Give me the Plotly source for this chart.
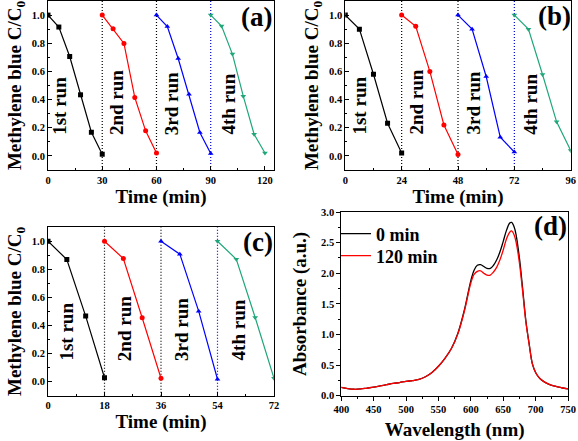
import plotly.graph_objects as go

# ---------------- data ----------------
# (a) 30-min runs
a_run1_t = [0, 6, 12, 18, 24, 30]
a_run1_c = [1.0, 0.915, 0.706, 0.434, 0.168, 0.012]
a_run2_t = [30, 36, 42, 48, 54, 60]
a_run2_c = [1.0, 0.903, 0.799, 0.415, 0.178, 0.021]
a_run3_t = [60, 66, 72, 78, 84, 90]
a_run3_c = [1.0, 0.919, 0.692, 0.438, 0.166, 0.017]
a_run4_t = [90, 96, 102, 108, 114, 120]
a_run4_c = [1.0, 0.922, 0.723, 0.424, 0.154, 0.021]
a_bounds = [30, 60, 90]

# (b) 24-min runs
b_run1_t = [0, 6, 12, 18, 24]
b_run1_c = [1.0, 0.90, 0.58, 0.232, 0.02]
b_run2_t = [24, 30, 36, 42, 48]
b_run2_c = [1.0, 0.92, 0.60, 0.22, 0.01]
b_run3_t = [48, 54, 60, 66, 72]
b_run3_c = [1.0, 0.90, 0.564, 0.133, 0.028]
b_run4_t = [72, 78, 84, 90, 96]
b_run4_c = [1.0, 0.90, 0.578, 0.242, 0.038]
b_bounds = [24, 48, 72]

# (c) 18-min runs
c_run1_t = [0, 6, 12, 18]
c_run1_c = [1.0, 0.87, 0.467, 0.028]
c_run2_t = [18, 24, 30, 36]
c_run2_c = [1.0, 0.877, 0.455, 0.024]
c_run3_t = [36, 42, 48, 54]
c_run3_c = [1.0, 0.908, 0.502, 0.017]
c_run4_t = [54, 60, 66, 72]
c_run4_c = [1.0, 0.872, 0.457, 0.024]
c_bounds = [18, 36, 54]

run_labels = ["1st run", "2nd run", "3rd run", "4th run"]
a_label_x = [6.6, 38, 68.5, 99.6]
b_label_x = [6.1, 30.2, 54.4, 78.8]
c_label_x = [6.0, 24.2, 42.3, 60.6]

# (d) UV-vis spectra
wavelength = [400, 410, 420, 430, 440, 450, 460, 470, 480, 490, 500, 510, 520, 530,
              540, 550, 560, 570, 580, 590, 600, 605, 610, 615, 620, 625, 630, 635,
              640, 645, 650, 655, 660, 663, 667, 670, 675, 680, 685, 690, 695, 700,
              705, 710, 720, 730, 740, 750]
abs_0min = [0.135, 0.115, 0.105, 0.11, 0.125, 0.14, 0.16, 0.18, 0.20, 0.215, 0.235, 0.245,
            0.265, 0.31, 0.38, 0.48, 0.61, 0.77, 1.02, 1.40, 1.88, 2.05, 2.13, 2.14,
            2.11, 2.08, 2.08, 2.13, 2.22, 2.35, 2.52, 2.70, 2.82, 2.83, 2.75, 2.62,
            2.25, 1.75, 1.22, 0.85, 0.52, 0.38, 0.30, 0.25, 0.19, 0.155, 0.13, 0.11]
abs_120min = [0.135, 0.115, 0.105, 0.11, 0.125, 0.14, 0.16, 0.18, 0.20, 0.215, 0.235, 0.245,
              0.265, 0.31, 0.38, 0.48, 0.61, 0.77, 1.01, 1.38, 1.84, 1.98, 2.03, 2.04,
              2.00, 1.97, 1.97, 2.02, 2.10, 2.22, 2.38, 2.56, 2.67, 2.69, 2.62, 2.50,
              2.17, 1.70, 1.20, 0.84, 0.52, 0.38, 0.30, 0.25, 0.19, 0.155, 0.13, 0.11]

# ---------------- style ----------------
W, H = 578, 441
FONT = "Liberation Serif, Times New Roman, serif"
colors = ["#000000", "#FF0000", "#0000FF", "#1FA77A"]
symbols = ["square", "circle", "triangle-up", "triangle-down"]


def px_x(p):
    return p / W


def px_y(p):
    return 1 - p / H


fig = go.Figure()

panels = [
    ("x", "y", [(a_run1_t, a_run1_c), (a_run2_t, a_run2_c), (a_run3_t, a_run3_c), (a_run4_t, a_run4_c)],
     a_bounds, a_label_x),
    ("x2", "y2", [(b_run1_t, b_run1_c), (b_run2_t, b_run2_c), (b_run3_t, b_run3_c), (b_run4_t, b_run4_c)],
     b_bounds, b_label_x),
    ("x3", "y3", [(c_run1_t, c_run1_c), (c_run2_t, c_run2_c), (c_run3_t, c_run3_c), (c_run4_t, c_run4_c)],
     c_bounds, c_label_x),
]

for xa, ya, runs, bounds, lab_x in panels:
    for j, b in enumerate(bounds):
        fig.add_shape(type="line", xref=xa, yref=ya + " domain", x0=b, x1=b, y0=0, y1=1,
                      line=dict(color="#0000CC" if j == len(bounds) - 1 else "#000000",
                                width=1.2, dash="1px,2px"), layer="below")
    for i, (t, c) in enumerate(runs):
        fig.add_trace(go.Scatter(
            x=t, y=c, xaxis=xa, yaxis=ya, mode="lines+markers",
            line=dict(color=colors[i], width=1.2),
            marker=dict(symbol=symbols[i], size=5, color=colors[i]),
            showlegend=False))
    for i, lx in enumerate(lab_x):
        fig.add_annotation(x=lx, y=0.135, xref=xa, yref=ya, text=run_labels[i],
                           textangle=-90, showarrow=False, xanchor="center", yanchor="bottom",
                           font=dict(family=FONT, size=19, color="black", weight="bold"))

fig.add_trace(go.Scatter(x=wavelength, y=abs_0min, xaxis="x4", yaxis="y4", mode="lines",
                         line=dict(color="black", width=1.3, shape="spline"), name="0 min",
                         legend="legend"))
fig.add_trace(go.Scatter(x=wavelength, y=abs_120min, xaxis="x4", yaxis="y4", mode="lines",
                         line=dict(color="#FF0000", width=1.3, shape="spline"), name="120 min",
                         legend="legend2"))

tickfont = dict(family=FONT, size=10.5, color="black", weight="bold")
titlefont_x = dict(family=FONT, size=19, color="black", weight="bold")
titlefont_y = dict(family=FONT, size=19, color="black", weight="bold")


def xaxis(domain, rng, dtick, minor, anchor, title, ticks="inside", standoff=2):
    return dict(domain=domain, range=rng, dtick=dtick, tick0=0 if rng[0] == 0 else rng[0],
                anchor=anchor, showgrid=False, zeroline=False, showline=True,
                linecolor="black", linewidth=1, mirror=True, ticks=ticks, ticklen=4,
                tickcolor="black", tickwidth=1, tickfont=tickfont, automargin=False,
                minor=dict(dtick=minor, ticks=ticks, ticklen=2, tickcolor="black", showgrid=False),
                title=dict(text=title, font=titlefont_x, standoff=standoff))


def yaxis(domain, rng, dtick, minor, anchor, title, ticks="inside", standoff=5, fmt=".1f"):
    return dict(domain=domain, range=rng, dtick=dtick, tick0=0, anchor=anchor,
                showgrid=False, zeroline=False, showline=True, linecolor="black",
                linewidth=1, mirror=True, ticks=ticks, ticklen=4, tickcolor="black",
                tickwidth=1, tickfont=tickfont, tickformat=fmt, automargin=False,
                minor=dict(dtick=minor, ticks=ticks, ticklen=2, tickcolor="black", showgrid=False),
                title=dict(text=title, font=titlefont_y, standoff=standoff))


ytitle = "Methylene blue C/C<sub>0</sub>"
dom_ax = [px_x(48), px_x(274)]
dom_bx = [px_x(345.3), px_x(570.7)]
dom_top_y = [px_y(170), px_y(1)]
dom_c_y = [px_y(395.7), px_y(227.2)]
dom_dx = [px_x(341.3), px_x(568)]
dom_d_y = [px_y(395.7), px_y(212)]

legend_style = dict(xanchor="left", yanchor="middle", bgcolor="rgba(0,0,0,0)",
                    borderwidth=0, itemwidth=30,
                    font=dict(family=FONT, size=18, color="black", weight="bold"))

fig.update_layout(
    width=W, height=H, margin=dict(l=0, r=0, t=0, b=0, autoexpand=False),
    paper_bgcolor="white", plot_bgcolor="white",
    font=dict(family=FONT, color="black"),
    xaxis=xaxis(dom_ax, [0, 125], 30, 15, "y", "Time (min)"),
    yaxis=yaxis(dom_top_y, [-0.1, 1.1], 0.2, 0.1, "x", ytitle),
    xaxis2=xaxis(dom_bx, [0, 96], 24, 12, "y2", "Time (min)"),
    yaxis2=yaxis(dom_top_y, [-0.1, 1.1], 0.2, 0.1, "x2", ytitle),
    xaxis3=xaxis(dom_ax, [0, 72], 18, 9, "y3", "Time (min)"),
    yaxis3=yaxis(dom_c_y, [-0.1, 1.1], 0.2, 0.1, "x3", ytitle),
    xaxis4=xaxis(dom_dx, [400, 750], 50, 25, "y4", "Wavelength (nm)", ticks="outside", standoff=9),
    yaxis4=yaxis(dom_d_y, [0, 3.0], 0.5, 0.25, "x4", "Absorbance (a.u.)", ticks="outside", standoff=9),
    legend=dict(x=px_x(336), y=px_y(234), **legend_style),
    legend2=dict(x=px_x(336), y=px_y(256), **legend_style),
)

for txt, x, y in [("(a)", 256.7, 16.7), ("(b)", 554.7, 15.5), ("(c)", 258.3, 241.7), ("(d)", 550.3, 226)]:
    fig.add_annotation(x=px_x(x), y=px_y(y), xref="paper", yref="paper", text=txt,
                       showarrow=False, xanchor="center", yanchor="middle",
                       font=dict(family=FONT, size=27, color="black", weight="bold"))

fig.write_html("out.html", config={"displayModeBar": False},
               post_script="document.body.style.margin='0';document.body.style.overflow='hidden';")
